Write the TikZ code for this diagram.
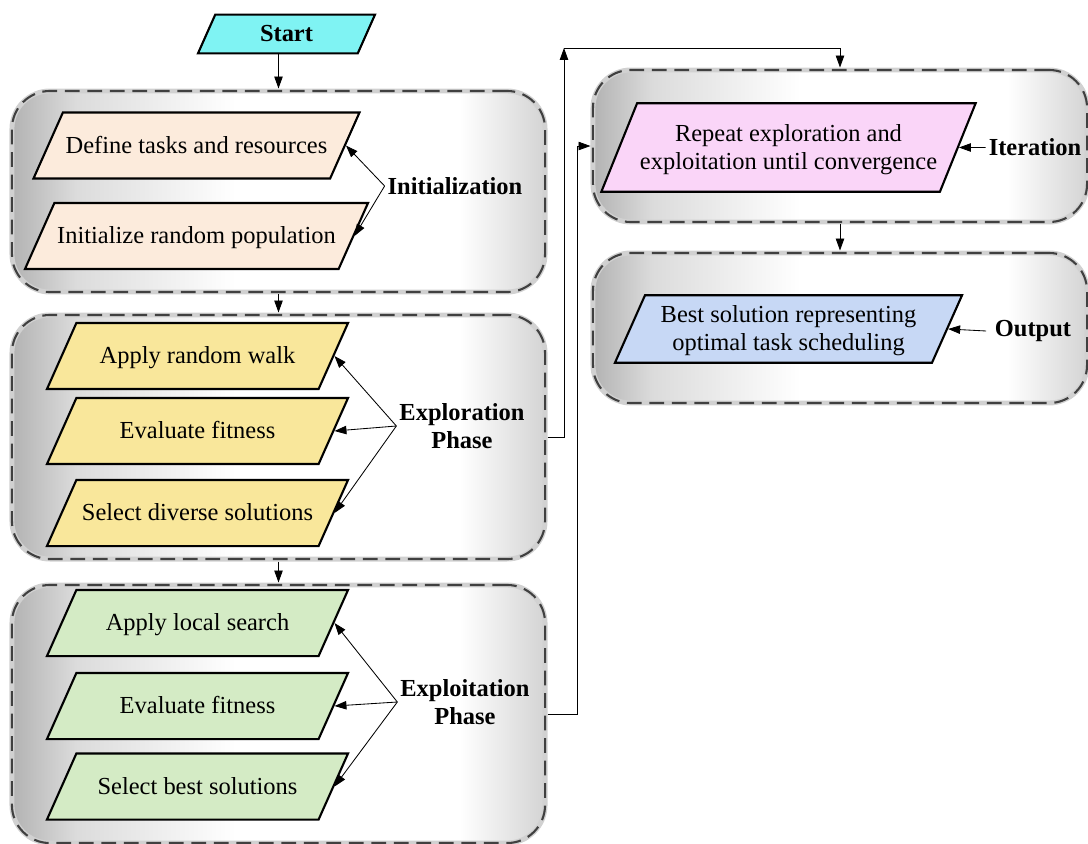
\documentclass[tikz,border=0pt]{standalone}
\usepackage{fontspec}
\setmainfont{Liberation Serif}
\usetikzlibrary{positioning, shapes.geometric, arrows.meta}

\definecolor{startcol}{HTML}{7FF3F3}
\definecolor{initcol}{HTML}{FCEBDC}
\definecolor{explcol}{HTML}{F9E79B}
\definecolor{exploitcol}{HTML}{D4EBC5}
\definecolor{itercol}{HTML}{FAD5F8}
\definecolor{outcol}{HTML}{C7D8F5}

\pgfdeclarehorizontalshading{grpshade}{100bp}{color(0bp)=(black!30); color(25bp)=(black!30); color(31bp)=(black!14); color(46bp)=(white); color(67bp)=(white); color(75bp)=(black!17); color(100bp)=(black!17)}

\newcommand{\boxfont}{\fontsize{17.4}{20}\selectfont}

\tikzset{
	>={Triangle[length=8.5pt,width=6pt]},
	stage/.style={
		shading=grpshade,
		rounded corners=0.95cm,
		draw=black!18,
		line width=3.5pt,
		postaction={draw=black!75, line width=1.5pt, dash pattern=on 10.5pt off 5.5pt},
	},
	para/.style={
		trapezium,
		trapezium left angle=66,
		trapezium right angle=114,
		trapezium stretches body,
		draw,
		line width=1.5pt,
		align=center,
		inner xsep=2pt,
		inner ysep=15pt,
		text height=14pt,
		text depth=3pt,
		font=\boxfont
	},
	twoline/.style={
		text height=34pt
	},
	tag/.style={
		align=center,
		inner sep=2pt,
		font=\boxfont\bfseries
	},
	link/.style={
		->,
		line width=0.6pt
	}
}

\begin{document}
\begin{tikzpicture}[x=0.025cm, y=-0.025cm]
\useasboundingbox (0,0) rectangle (1088,844);

% phase frames
\node(g1)[stage, minimum width=13.325cm, minimum height=5.025cm] at (278.5,191.5){};
\node(g2)[stage, minimum width=13.325cm, minimum height=6.1cm] at (278.5,437){};
\node(g3)[stage, minimum width=13.325cm, minimum height=6.45cm] at (278.5,714){};
\node(g4)[stage, minimum width=12.35cm, minimum height=3.8cm] at (840,146){};
\node(g5)[stage, minimum width=12.35cm, minimum height=3.75cm] at (840,328){};

% steps
\node(start)[para, fill=startcol, minimum width=4.425cm, inner ysep=5.3pt, font=\boxfont\bfseries] at (286.5,34){Start};

\node(define)[para, fill=initcol, minimum width=8.075cm] at (196.5,145.5){Define tasks and resources};
\node(initpop)[para, fill=initcol, minimum width=8.075cm] at (196.5,236){Initialize random population};

\node(walk)[para, fill=explcol, minimum width=7.525cm] at (197.5,356){Apply random walk};
\node(evalA)[para, fill=explcol, minimum width=7.525cm] at (197.5,431){Evaluate fitness};
\node(diverse)[para, fill=explcol, minimum width=7.525cm] at (197.5,513){Select diverse solutions};

\node(local)[para, fill=exploitcol, minimum width=7.525cm] at (197.5,623){Apply local search};
\node(evalB)[para, fill=exploitcol, minimum width=7.525cm] at (197.5,706){Evaluate fitness};
\node(best)[para, fill=exploitcol, minimum width=7.525cm] at (197.5,786.5){Select best solutions};

\node(repeat)[para, twoline, fill=itercol, minimum width=8.675cm, inner ysep=13pt, trapezium left angle=68, trapezium right angle=112] at (788.5,147.5){Repeat exploration and\\ exploitation until convergence};
\node(result)[para, twoline, fill=outcol, minimum width=8.675cm, inner ysep=5.5pt] at (788.5,329){Best solution representing\\ optimal task scheduling};

% phase names
\node(lab1)[tag] at (455,186){Initialization};
\node(lab2)[tag] at (462,426){Exploration\\ Phase};
\node(lab3)[tag] at (465,702){Exploitation\\ Phase};
\node(lab4)[tag] at (1035,147.5){Iteration};
\node(lab5)[tag, inner xsep=6pt] at (1033,331){Output};

\draw[link] (g1.north |- start.south) -- (g1.north);
\draw[link] (g1.south) -- (g2.north);
\draw[link] (g2.south) -- (g3.north);
\draw[link] (g4.south) -- (g5.north);

\foreach \b in {define, initpop} \draw[link] (lab1.west) -- (\b.east);
\foreach \b in {walk, evalA, diverse} \draw[link] (lab2.west) -- (\b.east);
\foreach \b in {local, evalB, best} \draw[link] (lab3.west) -- (\b.east);
\draw[link] (lab4.west) -- (repeat.east);
\draw[link] (lab5.west) -- (result.east);

% loop back to iteration
\coordinate(loopup) at (564,48);
\draw[link] (g2.east) -| (loopup);
\draw[link] (loopup) -| (g4.north);
\draw[link] (g3.east) -- ++(30,0) |- (g4.west);

\end{tikzpicture}
\end{document}
